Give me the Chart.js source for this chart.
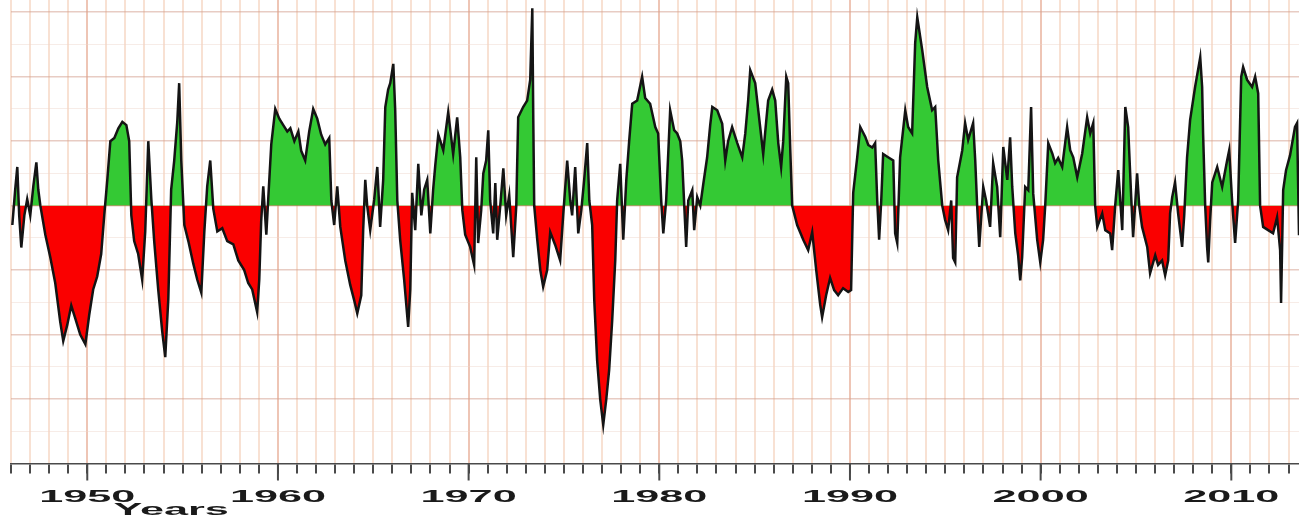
<!DOCTYPE html>
<html>
<head>
<meta charset="utf-8">
<title>Index by year</title>
<script src="https://cdn.jsdelivr.net/npm/chart.js@4.4.1/dist/chart.umd.min.js"></script>
<style>
    html, body { margin: 0; padding: 0; background: #fff; }
    #wrap { position: relative; width: 1299px; height: 520px; }
</style>
</head>
<body>
<div id="wrap"><canvas id="indexChart"></canvas></div>
<script>
// values (turning points of the curve)
const years = [
    1946.07, 1946.22, 1946.33, 1946.43, 1946.54, 1946.70, 1946.85, 1947.01, 1947.17, 1947.33,
    1947.43, 1947.54, 1947.80, 1948.06, 1948.32, 1948.58, 1948.74, 1948.95, 1949.16, 1949.37,
    1949.63, 1949.90, 1950.10, 1950.31, 1950.52, 1950.73, 1950.89, 1951.05, 1951.21, 1951.42,
    1951.63, 1951.84, 1952.05, 1952.20, 1952.31, 1952.46, 1952.67, 1952.88, 1953.04, 1953.20,
    1953.36, 1953.51, 1953.72, 1953.93, 1954.09, 1954.25, 1954.40, 1954.56, 1954.72, 1954.82,
    1954.93, 1955.09, 1955.30, 1955.56, 1955.77, 1955.98, 1956.14, 1956.29, 1956.45, 1956.61,
    1956.82, 1957.08, 1957.34, 1957.66, 1957.92, 1958.23, 1958.44, 1958.65, 1958.91, 1959.02,
    1959.12, 1959.23, 1959.39, 1959.49, 1959.65, 1959.86, 1960.07, 1960.28, 1960.49, 1960.65,
    1960.86, 1961.07, 1961.22, 1961.43, 1961.64, 1961.85, 1962.06, 1962.27, 1962.48, 1962.69,
    1962.80, 1962.95, 1963.11, 1963.27, 1963.53, 1963.79, 1964.00, 1964.16, 1964.37, 1964.47,
    1964.58, 1964.68, 1964.84, 1965.05, 1965.21, 1965.36, 1965.52, 1965.63, 1965.78, 1965.89,
    1966.05, 1966.15, 1966.26, 1966.41, 1966.62, 1966.83, 1966.94, 1967.04, 1967.20, 1967.36,
    1967.52, 1967.67, 1967.83, 1967.99, 1968.14, 1968.25, 1968.41, 1968.67, 1968.93, 1969.19,
    1969.40, 1969.56, 1969.67, 1969.82, 1970.08, 1970.29, 1970.40, 1970.50, 1970.66, 1970.77,
    1970.92, 1971.03, 1971.13, 1971.29, 1971.40, 1971.50, 1971.66, 1971.82, 1971.97, 1972.13,
    1972.34, 1972.50, 1972.60, 1972.86, 1973.07, 1973.23, 1973.34, 1973.39, 1973.44, 1973.60,
    1973.76, 1973.91, 1974.12, 1974.28, 1974.54, 1974.80, 1974.96, 1975.17, 1975.33, 1975.43,
    1975.59, 1975.75, 1975.91, 1976.06, 1976.22, 1976.33, 1976.48, 1976.59, 1976.74, 1976.90,
    1977.06, 1977.22, 1977.37, 1977.53, 1977.69, 1977.79, 1977.95, 1978.11, 1978.27, 1978.42,
    1978.58, 1978.84, 1979.10, 1979.26, 1979.52, 1979.79, 1979.94, 1980.10, 1980.21, 1980.36,
    1980.57, 1980.78, 1980.94, 1981.10, 1981.20, 1981.31, 1981.41, 1981.52, 1981.73, 1981.83,
    1981.99, 1982.15, 1982.30, 1982.51, 1982.67, 1982.78, 1983.04, 1983.30, 1983.46, 1983.61,
    1983.82, 1984.09, 1984.35, 1984.51, 1984.66, 1984.77, 1985.03, 1985.29, 1985.45, 1985.61,
    1985.71, 1985.92, 1986.08, 1986.24, 1986.39, 1986.50, 1986.66, 1986.76, 1986.87, 1986.97,
    1987.23, 1987.55, 1987.81, 1988.02, 1988.23, 1988.44, 1988.54, 1988.75, 1988.96, 1989.17,
    1989.38, 1989.64, 1989.91, 1990.06, 1990.17, 1990.38, 1990.54, 1990.80, 1990.96, 1991.17,
    1991.32, 1991.43, 1991.53, 1991.64, 1991.74, 1992.00, 1992.27, 1992.37, 1992.48, 1992.63,
    1992.90, 1993.05, 1993.26, 1993.42, 1993.53, 1993.79, 1994.05, 1994.31, 1994.47, 1994.63,
    1994.84, 1994.99, 1995.15, 1995.31, 1995.41, 1995.52, 1995.62, 1995.89, 1996.04, 1996.20,
    1996.46, 1996.57, 1996.67, 1996.78, 1996.99, 1997.14, 1997.35, 1997.51, 1997.72, 1997.88,
    1998.04, 1998.25, 1998.40, 1998.51, 1998.67, 1998.82, 1998.93, 1999.03, 1999.19, 1999.35,
    1999.50, 1999.61, 1999.82, 1999.98, 2000.13, 2000.24, 2000.40, 2000.61, 2000.76, 2000.92,
    2001.13, 2001.39, 2001.55, 2001.71, 2001.92, 2002.18, 2002.44, 2002.60, 2002.76, 2002.86,
    2002.97, 2003.23, 2003.39, 2003.65, 2003.75, 2003.91, 2004.07, 2004.28, 2004.44, 2004.59,
    2004.75, 2004.85, 2005.06, 2005.17, 2005.32, 2005.59, 2005.74, 2006.01, 2006.16, 2006.37,
    2006.53, 2006.69, 2006.79, 2006.90, 2007.05, 2007.21, 2007.42, 2007.53, 2007.68, 2007.84,
    2008.10, 2008.37, 2008.47, 2008.52, 2008.63, 2008.73, 2008.79, 2008.89, 2009.00, 2009.26,
    2009.52, 2009.78, 2009.89, 2010.04, 2010.20, 2010.36, 2010.52, 2010.62, 2010.83, 2011.09,
    2011.25, 2011.41, 2011.51, 2011.67, 2011.93, 2012.19, 2012.40, 2012.56, 2012.61, 2012.72,
    2012.87, 2013.08, 2013.34, 2013.45, 2013.55
];

const index = [
    -0.30, 0.25, 0.60, -0.15, -0.65, -0.15, 0.10, -0.15, 0.30, 0.67,
    0.25, 0.00, -0.45, -0.80, -1.20, -1.80, -2.10, -1.85, -1.55, -1.75,
    -2.00, -2.15, -1.70, -1.30, -1.10, -0.75, -0.15, 0.40, 1.00, 1.05,
    1.20, 1.30, 1.25, 1.00, -0.15, -0.55, -0.75, -1.15, -0.40, 1.00,
    0.10, -0.55, -1.30, -1.95, -2.35, -1.45, 0.25, 0.70, 1.30, 1.90,
    0.70, -0.30, -0.55, -0.90, -1.15, -1.35, -0.40, 0.30, 0.70, -0.05,
    -0.40, -0.35, -0.55, -0.60, -0.85, -1.00, -1.20, -1.30, -1.65, -1.15,
    -0.25, 0.30, -0.45, 0.10, 0.95, 1.50, 1.35, 1.25, 1.15, 1.20,
    1.00, 1.15, 0.85, 0.70, 1.15, 1.50, 1.35, 1.10, 0.95, 1.05,
    0.08, -0.30, 0.30, -0.33, -0.85, -1.23, -1.47, -1.67, -1.39, -0.38,
    0.40, 0.00, -0.38, 0.10, 0.60, -0.33, 0.40, 1.53, 1.80, 1.90,
    2.20, 1.48, 0.08, -0.53, -1.15, -1.88, -1.30, 0.20, -0.38, 0.65,
    -0.15, 0.25, 0.40, -0.43, 0.25, 0.62, 1.10, 0.86, 1.45, 0.80,
    1.37, 0.75, -0.07, -0.45, -0.64, -0.92, 0.75, -0.58, -0.07, 0.50,
    0.70, 1.17, 0.08, -0.43, 0.35, -0.53, 0.00, 0.58, -0.15, 0.16,
    -0.80, 0.00, 1.37, 1.53, 1.63, 1.95, 3.06, 1.37, 0.00, -0.53,
    -1.00, -1.26, -1.00, -0.41, -0.61, -0.85, -0.15, 0.70, 0.08, -0.15,
    0.60, -0.43, -0.07, 0.40, 0.97, 0.08, -0.30, -1.47, -2.40, -3.00,
    -3.40, -3.00, -2.55, -1.78, -0.85, 0.08, 0.65, -0.53, 0.40, 1.00,
    1.58, 1.63, 2.00, 1.67, 1.58, 1.22, 1.12, 0.08, -0.43, 0.08,
    1.48, 1.17, 1.12, 1.00, 0.70, 0.00, -0.64, 0.08, 0.24, -0.38,
    0.13, 0.00, 0.32, 0.75, 1.25, 1.53, 1.48, 1.27, 0.70, 1.00,
    1.22, 0.97, 0.75, 1.12, 1.63, 2.10, 1.90, 1.22, 0.80, 1.32,
    1.63, 1.80, 1.63, 0.97, 0.60, 1.00, 2.00, 1.90, 0.86, 0.00,
    -0.30, -0.53, -0.69, -0.41, -1.00, -1.54, -1.73, -1.39, -1.12, -1.31,
    -1.39, -1.28, -1.34, -1.31, 0.20, 0.75, 1.22, 1.07, 0.94, 0.90,
    0.97, 0.08, -0.53, 0.08, 0.80, 0.75, 0.70, -0.43, -0.58, 0.75,
    1.48, 1.22, 1.12, 2.52, 2.92, 2.41, 1.84, 1.48, 1.53, 0.70,
    0.00, -0.22, -0.38, 0.08, -0.81, -0.88, 0.44, 0.86, 1.28, 1.02,
    1.28, 0.70, 0.00, -0.64, 0.29, 0.08, -0.33, 0.66, 0.29, -0.49,
    0.91, 0.40, 1.06, 0.29, -0.43, -0.77, -1.16, -0.80, 0.29, 0.24,
    1.53, 0.19, -0.53, -0.88, -0.53, 0.00, 0.97, 0.81, 0.66, 0.74,
    0.60, 1.22, 0.86, 0.75, 0.44, 0.81, 1.37, 1.12, 1.28, 0.00,
    -0.33, -0.12, -0.38, -0.43, -0.69, 0.00, 0.55, -0.38, 1.53, 1.22,
    0.13, -0.49, 0.50, 0.00, -0.33, -0.64, -1.05, -0.77, -0.92, -0.85,
    -1.08, -0.85, -0.12, 0.13, 0.36, -0.12, -0.64, -0.15, 0.75, 1.33,
    1.84, 2.30, 1.84, 1.12, 0.00, -0.64, -0.88, -0.22, 0.36, 0.60,
    0.29, 0.70, 0.86, 0.08, -0.58, 0.08, 2.00, 2.15, 1.95, 1.84,
    2.00, 1.74, 0.00, -0.33, -0.38, -0.43, -0.18, -0.69, -1.51, 0.24,
    0.55, 0.78, 1.22, 1.28, -0.46
];

const decades = [1950, 1960, 1970, 1980, 1990, 2000, 2010];
const X_MIN = 1946;
const X_MAX = 2013.55;
const Y_MIN = -4;
const Y_MAX = 3.19;
const AXIS_TITLE = 'Years';
const TITLE_AT = 1954.4;

const COLORS = {
    above: '#34c934',
    below: '#fa0000',
    line: '#141414',
    yearGrid: 'rgba(242, 196, 168, 0.5)',
    decadeGrid: 'rgba(226, 158, 132, 0.6)',
    majorGrid: 'rgba(214, 162, 146, 0.55)',
    minorGrid: 'rgba(238, 212, 202, 0.45)',
    axis: '#4a4a4a',
    text: '#1a1a1a'
};

// the original labels are set in a very wide face; stretch ours to match
const TEXT_STRETCH = 2.7;
const LABEL_FONT = { family: "'Liberation Sans', Arial, sans-serif", size: 16, weight: 'bold' };

const wideText = {
    id: 'wideText',
    beforeDraw(chart) {
        const ctx = chart.ctx;
        const fillText = CanvasRenderingContext2D.prototype.fillText;
        ctx.fillText = function (text, x, y) {
            this.save();
            this.translate(x, y);
            this.scale(TEXT_STRETCH, 1);
            fillText.call(this, text, 0, 0);
            this.restore();
        };
    },
    afterDraw(chart) {
        const ctx = chart.ctx;
        const xs = chart.scales.x;

        // decade ticks hang lower than the yearly ones
        ctx.save();
        ctx.strokeStyle = COLORS.axis;
        ctx.lineWidth = 2;
        decades.forEach(d => {
            const px = xs.getPixelForValue(d);
            ctx.beginPath();
            ctx.moveTo(px, xs.top);
            ctx.lineTo(px, xs.top + 17);
            ctx.stroke();
        });

        ctx.font = `bold ${LABEL_FONT.size}px ${LABEL_FONT.family}`;
        ctx.fillStyle = COLORS.text;
        ctx.textAlign = 'center';
        ctx.textBaseline = 'middle';
        ctx.fillText(AXIS_TITLE, xs.getPixelForValue(TITLE_AT), 511);
        ctx.restore();

        delete ctx.fillText;
    }
};

function init() {
    const points = years.map((x, i) => ({ x: x, y: index[i] }));

    new Chart(document.getElementById('indexChart'), {
        type: 'line',
        data: {
            datasets: [{
                data: points,
                borderColor: COLORS.line,
                borderWidth: 2.5,
                tension: 0,
                pointRadius: 0,
                fill: { target: { value: 0 }, above: COLORS.above, below: COLORS.below }
            }]
        },
        options: {
            responsive: true,
            maintainAspectRatio: false,
            animation: false,
            layout: { padding: { left: 11, right: 0, top: 0, bottom: 0 } },
            plugins: {
                legend: { display: false },
                tooltip: { enabled: false }
            },
            scales: {
                x: {
                    type: 'linear',
                    min: X_MIN,
                    max: X_MAX,
                    afterFit: s => {
                        s.height = 56.5;
                        s.paddingLeft = 0;
                        s.paddingRight = 0;
                    },
                    border: { color: COLORS.axis, width: 1.5 },
                    grid: {
                        tickLength: 10,
                        lineWidth: 2,
                        tickWidth: 2,
                        color: c => (c.tick.value % 10 === 0 ? COLORS.decadeGrid : COLORS.yearGrid),
                        tickColor: COLORS.axis
                    },
                    ticks: {
                        stepSize: 1,
                        includeBounds: false,
                        autoSkip: false,
                        maxRotation: 0,
                        minRotation: 0,
                        padding: 14,
                        color: COLORS.text,
                        font: LABEL_FONT,
                        callback: v => (decades.includes(v) ? String(v) : '')
                    }
                },
                y: {
                    min: Y_MIN,
                    max: Y_MAX,
                    afterFit: s => {
                        s.width = 0;
                        s.paddingTop = 0;
                        s.paddingBottom = 0;
                    },
                    border: { display: false },
                    grid: {
                        drawTicks: false,
                        lineWidth: c => (Number.isInteger(c.tick.value) ? 1.5 : 1),
                        color: c => {
                            const v = c.tick.value;
                            if (v === Y_MIN) return 'transparent';
                            return Number.isInteger(v) ? COLORS.majorGrid : COLORS.minorGrid;
                        }
                    },
                    ticks: { display: false, stepSize: 0.5, includeBounds: false }
                }
            }
        },
        plugins: [wideText]
    });
}

init();
</script>
</body>
</html>
